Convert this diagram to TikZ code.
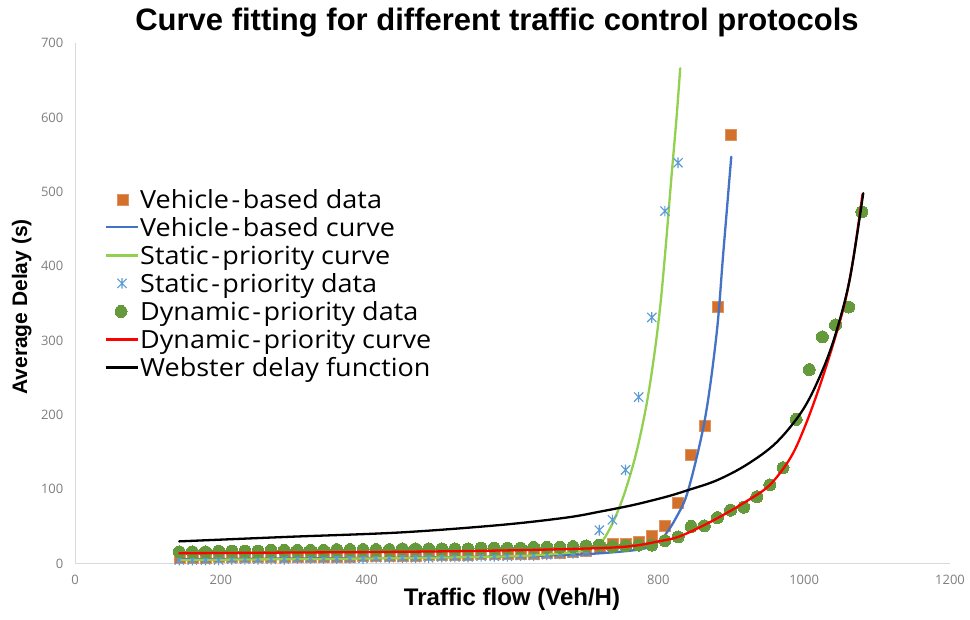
\documentclass[tikz,border=0pt]{standalone}
\usepackage{fontspec}
\setmainfont{Open Sans}
\newfontfamily\boldsans{Liberation Sans}
\newfontfamily\legendfont{Open Sans}[FakeStretch=1.08]
\usetikzlibrary{plotmarks}

\definecolor{sqorange}{HTML}{D2702C}
\definecolor{vblue}{HTML}{4472C4}
\definecolor{sgreen}{HTML}{92D050}
\definecolor{xblue}{HTML}{5B9BD5}
\definecolor{dgreen}{HTML}{64993C}
\definecolor{axisgray}{HTML}{D9D9D9}
\definecolor{ticktext}{HTML}{7F7F7F}

% spaced hyphen used in the legend entries
\newcommand{\lhy}{\hspace{2.5pt}-\hspace{2.5pt}}

% asterisk-like marker: a diagonal cross with a vertical bar
\pgfdeclareplotmark{xstar}{%
  \pgfpathmoveto{\pgfpoint{-\pgfplotmarksize}{-\pgfplotmarksize}}%
  \pgfpathlineto{\pgfpoint{\pgfplotmarksize}{\pgfplotmarksize}}%
  \pgfpathmoveto{\pgfpoint{-\pgfplotmarksize}{\pgfplotmarksize}}%
  \pgfpathlineto{\pgfpoint{\pgfplotmarksize}{-\pgfplotmarksize}}%
  \pgfpathmoveto{\pgfpoint{0pt}{-1.15\pgfplotmarksize}}%
  \pgfpathlineto{\pgfpoint{0pt}{1.15\pgfplotmarksize}}%
  \pgfusepathqstroke}

\tikzset{
  curve/.style={line width=2.3pt, line join=round, line cap=round},
  sqmarks/.style={only marks, mark=square*, mark size=5.5pt,
    mark options={fill=sqorange, draw=sqorange!75!white, line width=0.5pt}},
  xmarks/.style={only marks, mark=xstar, mark size=4.6pt,
    mark options={draw=xblue, line width=1.1pt}},
  dotmarks/.style={only marks, mark=*, mark size=6pt,
    mark options={fill=dgreen, draw=dgreen, line width=0pt}},
  ticklab/.style={font=\fontsize{13}{13}\selectfont, text=ticktext, inner sep=0pt},
  legtext/.style={font=\legendfont\fontsize{25}{25}\selectfont, anchor=base west, inner sep=0pt},
  axline/.style={draw=axisgray, line width=1pt}
}

\begin{document}
\begin{tikzpicture}[x=1pt, y=1pt]
  \fill[white] (0,0) rectangle (970,620);
  \path[use as bounding box] (0,0) rectangle (970,620);

  % title and axis titles
  \node[anchor=base, inner sep=0pt] (title) at (497,589)
    {\boldsans\bfseries\fontsize{31}{31}\selectfont Curve fitting for different traffic control protocols};
  \node[anchor=base, inner sep=0pt] (xtitle) at (512,14)
    {\boldsans\bfseries\fontsize{24}{24}\selectfont Traffic flow (Veh/H)};
  \node[anchor=base, rotate=90, inner sep=0pt] (ytitle) at (27,313)
    {\boldsans\bfseries\fontsize{21}{21}\selectfont Average Delay (s)};

  % plot area in data units
  \begin{scope}[shift={(75pt,56.3pt)}, x=0.729167pt, y=0.743857pt]
    \coordinate (o) at (0,0);
    \coordinate (xend) at (1200,0);
    \coordinate (yend) at (0,700);
    \draw[axline] (o) -- (yend);
    \draw[axline] (o) -- (xend);

    \foreach \v in {0,100,...,700}
      \node[ticklab, anchor=east, xshift=-11.5pt] (yt\v) at (0,\v) {\v};
    \foreach \v in {0,200,...,1200}
      \node[ticklab, anchor=base, yshift=-20.5pt] (xt\v) at (\v,0) {\v};

    % Vehicle-based data
    \foreach \v [count=\i from 0] in {8,8,8,9,9,9,9,9,10,10,10,10,10,10,11,11,11,11,11,12,12,12,12,13,13,13,14,14,15,15,16,18,21,27,27,30,37,51,82,146,186,345,576}{
      \pgfmathsetmacro\xx{143+18*\i}
      \draw plot[sqmarks] coordinates {(\xx,\v)};
    }

    % Vehicle-based curve
    \draw[curve, vblue] plot[smooth, tension=0.55] coordinates {
      (143,6) (300,7) (450,8) (600,10) (680,12) (720,14) (766,18) (789,23)
      (807,36) (825,63) (841,99) (864,195) (880,310) (889,417) (900,547)};

    % Static-priority curve
    \draw[curve, sgreen] plot[smooth, tension=0.55] coordinates {
      (143,5) (400,7) (600,10) (680,15) (700,19) (720,27) (734,48) (745,72)
      (756,102) (770,150) (784,215) (795,285) (803,350) (810,425) (818,520)
      (825,600) (830,666)};

    % Static-priority data
    \foreach \v [count=\i from 0] in {5,5,5,5,6,6,6,6,6,7,7,7,7,7,7,8,8,8,8,8,9,9,9,10,10,10,11,11,12,13,14,16,45,59,126,224,331,474,539}{
      \pgfmathsetmacro\xx{143+18*\i}
      \draw plot[xmarks] coordinates {(\xx,\v)};
    }

    % Dynamic-priority data
    \foreach \v [count=\i from 0] in {16,16,16,17,17,17,17,18,18,18,18,18,19,19,19,19,19,20,20,20,20,20,20,21,21,21,21,22,22,22,23,24,25,23,24,25,25,31,36,50,51,62,72,76,90,106,129,194,261,305,321,345,473}{
      \pgfmathsetmacro\xx{143+18*\i}
      \draw plot[dotmarks] coordinates {(\xx,\v)};
    }

    % Dynamic-priority curve
    \draw[curve, red] plot[smooth, tension=0.55] coordinates {
      (143,14) (300,15) (450,16) (600,18) (720,21) (766,24) (800,30) (830,37)
      (875,58) (921,84) (953,106) (981,142) (1000,182) (1020,235) (1040,296)
      (1056,352) (1068,414) (1080,497)};

    % Webster delay function
    \draw[curve, black] plot[smooth, tension=0.55] coordinates {
      (143,30) (290,36) (446,42) (583,52) (674,62) (720,70) (766,79) (811,90)
      (841,99) (880,112) (921,133) (962,163) (999,208) (1026,262) (1045,315)
      (1063,385) (1081,498)};
  \end{scope}

  % legend
  \node[legtext] (leg1) at (140,411.7) {Vehicle\lhy based data};
  \node[legtext] (leg2) at (140,383.65) {Vehicle\lhy based curve};
  \node[legtext] (leg3) at (140,355.6) {Static\lhy priority curve};
  \node[legtext] (leg4) at (140,327.55) {Static\lhy priority data};
  \node[legtext] (leg5) at (140,299.5) {Dynamic\lhy priority data};
  \node[legtext] (leg6) at (140,271.45) {Dynamic\lhy priority curve};
  \node[legtext] (leg7) at (140,243.4) {Webster delay function};

  \coordinate (k1) at (123,420.7);
  \coordinate (k4) at (122,336.55);
  \coordinate (k5) at (121,308.5);
  \draw plot[sqmarks] coordinates {(k1)};
  \draw plot[xmarks] coordinates {(k4)};
  \draw plot[dotmarks] coordinates {(k5)};
  \draw[curve, vblue, line cap=butt] (106,392.65) -- (138,392.65);
  \draw[curve, sgreen, line cap=butt] (106,364.6) -- (138,364.6);
  \draw[curve, red, line cap=butt] (106,280.45) -- (138,280.45);
  \draw[curve, black, line cap=butt] (106,252.4) -- (138,252.4);
\end{tikzpicture}
\end{document}
